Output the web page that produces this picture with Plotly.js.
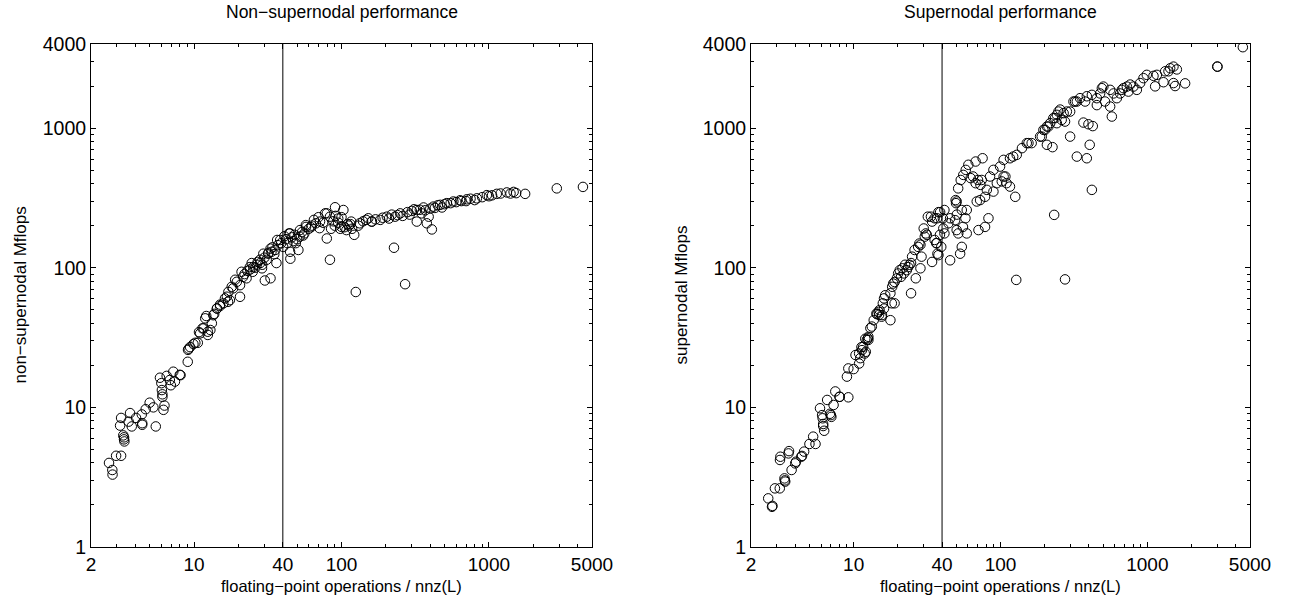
<!DOCTYPE html>
<html>
<head>
<meta charset="utf-8">
<script src="https://cdn.plot.ly/plotly-3.0.1.min.js"></script>
<style>
  html, body { margin: 0; padding: 0; background: #ffffff; }
  #chart { width: 1289px; height: 601px; }
</style>
</head>
<body>
<div id="chart"></div>
<script>
// ---- Data ----
// Left panel: non-supernodal performance (flops/nnz(L) vs Mflops)
const nonSupX = [
  2.65, 2.79, 2.8, 2.96, 3.2, 3.2, 3.15, 3.31, 3.35, 3.37, 3.35, 3.68, 3.6, 3.78, 4.04, 4.42, 4.45, 4.45, 4.7, 5.0,
  5.3, 5.5, 5.87, 6.0, 6.05, 6.1, 6.1, 6.2, 6.3, 6.52, 6.85, 6.96, 7.23, 7.42, 8.0, 8.1, 9.06, 9.1, 9.2, 9.9,
  10.6, 10.8, 11.0, 11.6, 12.1, 12.4, 12.9, 13.2, 13.7, 14.3, 15, 15.8, 17,
  9.4, 10.2, 11.4, 11.9, 12.4, 13.5, 14.3, 15, 16.2, 17.5, 17.1, 18.4, 20.5, 19.5, 21.5, 21, 22.7, 23.9, 25, 26.6,
  28, 28.9, 30.2, 33, 29.5, 31.8, 33, 35.5, 36.2, 38.4, 40.2, 44, 45, 49, 51, 52, 57.5, 56, 67, 71, 79.5, 83.5,
  18, 16.7, 20.5, 24.6, 25.2, 28.1, 31.1, 33.5, 36.6, 44.8, 44.8, 52.3, 22, 24, 27, 30, 32, 34, 37, 39, 42, 46,
  48, 54, 60, 63, 19, 23, 26, 29, 35, 41, 43, 47, 50, 55,
  90.4, 103, 77.4, 83.5, 71.5, 57.3, 69.8, 79.5, 100, 108, 116.5, 122, 125, 133, 152, 160, 183, 203, 219, 231,
  227, 270, 324, 324, 379, 410, 390, 420, 467, 518, 574, 637, 708, 828, 968, 1130, 1322, 1470, 1530, 1760,
  2885, 4340, 147, 161, 90, 95, 98, 105, 112, 85, 88, 110, 118, 140, 170, 190, 210, 240, 250, 260,
  280, 290, 300, 310, 340, 350, 360, 370, 400, 430, 450, 480, 500, 550, 600, 650, 700, 750, 800, 900,
  1000, 1050, 1200, 1400, 91, 95, 100, 115, 130, 75, 65, 62
];
const nonSupY = [
  4.0, 3.56, 3.3, 4.5, 4.5, 8.4, 7.4, 6.3, 6.1, 5.7, 5.9, 9.1, 7.9, 7.3, 8.4, 8.9, 7.7, 7.5, 9.7, 10.8,
  10.0, 7.3, 16.3, 14.9, 13.3, 12.4, 11.9, 9.6, 10.3, 16.8, 15.7, 14.4, 18.0, 15.3, 17.1, 17.0, 21.2, 25.8, 26.3, 28.4,
  29.0, 34.6, 33.9, 36.8, 45.1, 33.0, 35.8, 40, 46.7, 51.1, 53.2, 55.6, 57,
  27, 29, 36.8, 43.4, 34.8, 45.7, 51, 54.4, 60.3, 58.6, 67.2, 71.2, 61.9, 79.3, 86, 93.5, 84, 101, 93.5, 105,
  114, 99, 81, 84, 126, 126, 137, 134, 108, 158, 141, 176, 116, 150, 134, 167, 196, 176, 208, 192, 245, 114,
  73, 62, 75, 108, 101, 108, 114, 130, 158, 130, 176, 186, 90, 97, 110, 118, 128, 140, 145, 150, 160, 165,
  172, 180, 190, 200, 82, 95, 100, 105, 125, 168, 150, 155, 160, 170,
  271, 259, 245, 232, 214, 202, 230, 162, 196, 186, 214, 172, 67, 208, 226, 214, 220, 232, 240, 232,
  139, 76.2, 259, 214, 208, 188, 232, 274, 282, 290, 298, 304, 309, 314, 331, 338, 346, 349, 342, 338,
  370, 379, 220, 214, 200, 210, 190, 195, 200, 190, 215, 205, 190, 215, 222, 228, 225, 238, 245, 235,
  250, 240, 255, 262, 260, 245, 270, 258, 265, 268, 280, 270, 285, 290, 295, 300, 300, 312, 305, 320,
  325, 330, 340, 340, 235, 225, 230, 205, 200, 210, 220, 195
];

// Right panel: supernodal performance
const supX = [
  2.62, 2.78, 2.8, 2.91, 3.14, 3.15, 3.17, 3.4, 3.42, 3.38, 3.6, 3.63, 3.78, 4.0, 4.05, 4.4, 4.45, 4.6, 5.0, 5.3,
  5.5, 5.9, 6.1, 6.15, 6.2, 6.3, 6.2, 6.6, 6.9, 7.0, 7.05, 7.3, 7.5, 8.0, 8.05, 9.2, 9.0, 9.2, 10, 10.3,
  10.9, 10.9, 11.1, 11.4, 11.6, 11.9, 12.1, 12.3, 12.5, 12.6, 13.0, 13.3, 13.7, 14.3, 14.4, 14.8, 15.5, 15.6, 16.1, 17.8,
  18.2, 19,
  11.3, 12, 12.6, 15, 14.9, 15.8, 16.1, 16.4, 17.8, 18.3, 18.6, 19, 19.7, 20.1, 20.6, 21, 21.5, 22, 22.4, 23,
  23.5, 24, 24.6, 24.6, 26.5, 25, 26, 27.5, 28, 28.5, 28.5, 29, 30, 30.5, 31, 31.5, 32, 33.6, 34.2, 35.6,
  37, 37.8, 38.8, 41.5, 40.5, 34.2, 35.6, 36.5, 37.2, 37.8, 39.5, 41.5, 50.3, 55.5, 57.7, 49.5, 50.3, 49.8, 51.5, 53.6,
  55.8, 58, 60.4, 62.7, 65, 67.7, 70.3, 73, 67.7, 75.5, 78.5, 128, 275,
  151, 163, 140, 129, 122, 116, 99.3, 89.5, 84.9, 105, 94.4, 102, 110, 116, 126, 74.5, 89.5, 80.7, 68.9, 72.6,
  58.9, 54.5, 50.4, 45.4, 49.1, 44.2, 51.6, 58.9, 54.5, 53.1, 45.4, 82.8, 78.5, 70.8, 40.8, 38.7, 36.8,
  4470, 3006, 1430, 1506, 1588, 1393, 1322, 1545, 1808, 1288, 1130, 991, 1101, 941, 893, 804, 848, 743, 764, 687,
  653, 620, 588, 558, 502, 477, 490, 453, 515, 558, 573, 453, 419, 387, 377, 348, 331, 314, 283, 269,
  255, 242, 229, 242, 218, 207, 196, 186, 207, 226, 298, 367, 397, 425, 331, 387, 405, 419, 232, 105,
  108, 155, 191, 201, 212, 235, 248, 261, 275, 298, 322, 670, 725, 1161, 1506, 2990
];
const supY = [
  2.23, 1.94, 1.97, 2.63, 2.63, 4.2, 4.43, 3.0, 2.94, 3.1, 4.68, 4.86, 3.56, 3.97, 4.08, 4.43, 4.49, 4.82, 5.47, 6.17,
  5.47, 9.85, 8.8, 8.35, 7.35, 6.8, 7.6, 11.3, 9.0, 8.8, 8.55, 10.4, 13.0, 11.9, 11.9, 11.8, 16.6, 19.0, 18.8, 23.7,
  20.6, 24.3, 22.5, 25.7, 27.1, 24.3, 25, 30.4, 31.2, 30.4, 36.9, 37.9, 42.1, 47, 46.5, 48.3, 44.6, 45.8, 51, 42.1,
  55.6, 55.6,
  27, 31, 32, 49.7, 46, 55.6, 60.3, 63.5, 65.6, 73, 77, 79, 84, 91, 96, 86, 99, 91, 105, 96,
  101, 105, 108, 65.6, 84, 120, 134, 141, 149, 146, 99, 120, 191, 167, 176, 172, 232, 232, 214, 226,
  226, 250, 250, 259, 226, 110, 158, 150, 126, 123, 141, 176, 186, 196, 226, 305, 298, 290, 370, 425,
  462, 502, 546, 438, 450, 403, 425, 392, 576, 608, 322, 81.8, 82.5,
  780, 780, 718, 643, 625, 608, 530, 502, 450, 450, 403, 415, 403, 381, 322, 425, 351, 361, 298, 305,
  259, 259, 240, 226, 219, 208, 176, 176, 141, 126, 113, 226, 196, 186, 191, 172, 150,
  3795, 2755, 2680, 2755, 2630, 2550, 2550, 2000, 2090, 2130, 1990, 2405, 2365, 2277, 2100, 1982, 1878, 1825, 2050, 1930,
  1770, 1637, 1770, 1878, 1982, 1770, 1930, 1637, 1549, 1426, 1209, 1460, 1729, 1690, 1549, 1637, 1549, 1549, 1313, 1279,
  1357, 1244, 1178, 1084, 1084, 1025, 971, 869, 759, 730, 869, 1095, 1065, 1033, 625, 608, 759, 361, 239, 592,
  450, 780, 869, 971, 1025, 1178, 1313, 1144, 1113, 1313, 1549, 1878, 1982, 2405, 2100, 2755
];

// Tick labels
const xTickVals = [2, 10, 40, 100, 1000, 5000];
const xTickText = ['2', '10', '40', '100', '1000', '5000'];
const xMinorVals = [3, 4, 5, 6, 7, 8, 9, 20, 30, 50, 60, 70, 80, 90, 200, 300, 400, 500, 600, 700, 800, 900, 2000, 3000, 4000];
const yTickVals = [1, 10, 100, 1000, 4000];
const yTickText = ['1', '10', '100', '1000', '4000'];
const yMinorVals = [2, 3, 4, 5, 6, 7, 8, 9, 20, 30, 40, 50, 60, 70, 80, 90, 200, 300, 400, 500, 600, 700, 800, 900, 2000, 3000];
const threshold = 40;

const titles = ['Non\u2212supernodal performance', 'Supernodal performance'];
const xTitle = 'floating\u2212point operations / nnz(L)';
const yTitles = ['non\u2212supernodal Mflops', 'supernodal Mflops'];

// ---- Plot ----
const FONT = 'Liberation Sans, Arial, Helvetica, sans-serif';
const marker = { symbol: 'circle-open', size: 9.5, color: '#000', line: { width: 1, color: '#000' } };

const traces = [
  { x: nonSupX, y: nonSupY, type: 'scatter', mode: 'markers', marker: marker, xaxis: 'x', yaxis: 'y', hoverinfo: 'x+y' },
  { x: supX, y: supY, type: 'scatter', mode: 'markers', marker: marker, xaxis: 'x2', yaxis: 'y2', hoverinfo: 'x+y' }
];

function xAxis(domain, anchor) {
  return {
    type: 'log', domain: domain, anchor: anchor,
    range: [Math.log10(2), Math.log10(5000)],
    tickmode: 'array', tickvals: xTickVals, ticktext: xTickText,
    ticks: 'inside', ticklen: 5, tickwidth: 1, tickcolor: '#000',
    minor: { tickmode: 'array', tickvals: xMinorVals, ticks: 'inside', ticklen: 3, tickwidth: 1, tickcolor: '#000', showgrid: false },
    showline: true, linecolor: '#000', linewidth: 1, mirror: 'ticks',
    showgrid: false, zeroline: false,
    ticklabelstandoff: 0,
    tickfont: { family: FONT, size: 19, color: '#000' }
  };
}
function yAxis(domain, anchor) {
  return {
    type: 'log', domain: domain, anchor: anchor,
    range: [0, Math.log10(4000)],
    tickmode: 'array', tickvals: yTickVals, ticktext: yTickText,
    ticks: 'inside', ticklen: 5, tickwidth: 1, tickcolor: '#000',
    minor: { tickmode: 'array', tickvals: yMinorVals, ticks: 'inside', ticklen: 3, tickwidth: 1, tickcolor: '#000', showgrid: false },
    showline: true, linecolor: '#000', linewidth: 1, mirror: 'ticks',
    showgrid: false, zeroline: false,
    tickfont: { family: FONT, size: 19.5, color: '#000' }
  };
}

const yDom = [54 / 601, 557 / 601];
const x1Dom = [91 / 1289, 592 / 1289];
const x2Dom = [751 / 1289, 1250 / 1289];
const txt = (s) => ({ family: FONT, size: s, color: '#000' });

const layout = {
  width: 1289, height: 601,
  margin: { l: 0, r: 0, t: 0, b: 0 },
  paper_bgcolor: '#fff', plot_bgcolor: '#fff',
  showlegend: false,
  font: { family: FONT, color: '#000' },
  xaxis: xAxis(x1Dom, 'y'),
  yaxis: yAxis(yDom, 'x'),
  xaxis2: xAxis(x2Dom, 'y2'),
  yaxis2: yAxis(yDom, 'x2'),
  shapes: [
    { type: 'line', xref: 'x', yref: 'y domain', x0: threshold, x1: threshold, y0: 0, y1: 1, line: { color: '#000', width: 1 } },
    { type: 'line', xref: 'x2', yref: 'y2 domain', x0: threshold, x1: threshold, y0: 0, y1: 1, line: { color: '#000', width: 1 } }
  ],
  annotations: [
    { text: titles[0], xref: 'x domain', yref: 'paper', x: 0.5, y: 1 - 12 / 601, xanchor: 'center', yanchor: 'middle', showarrow: false, font: txt(17.5) },
    { text: titles[1], xref: 'x2 domain', yref: 'paper', x: 0.5, y: 1 - 12 / 601, xanchor: 'center', yanchor: 'middle', showarrow: false, font: txt(17.5) },
    { text: xTitle, xref: 'x domain', yref: 'paper', x: 0.5, y: 1 - 586 / 601, xanchor: 'center', yanchor: 'middle', showarrow: false, font: txt(16.5) },
    { text: xTitle, xref: 'x2 domain', yref: 'paper', x: 0.5, y: 1 - 586 / 601, xanchor: 'center', yanchor: 'middle', showarrow: false, font: txt(16.5) },
    { text: yTitles[0], xref: 'paper', yref: 'y domain', x: 20 / 1289, y: 0.5, xanchor: 'center', yanchor: 'middle', textangle: -90, showarrow: false, font: txt(17) },
    { text: yTitles[1], xref: 'paper', yref: 'y2 domain', x: 681 / 1289, y: 0.5, xanchor: 'center', yanchor: 'middle', textangle: -90, showarrow: false, font: txt(17) }
  ]
};

Plotly.newPlot('chart', traces, layout, { displayModeBar: false, staticPlot: true });
</script>
</body>
</html>
